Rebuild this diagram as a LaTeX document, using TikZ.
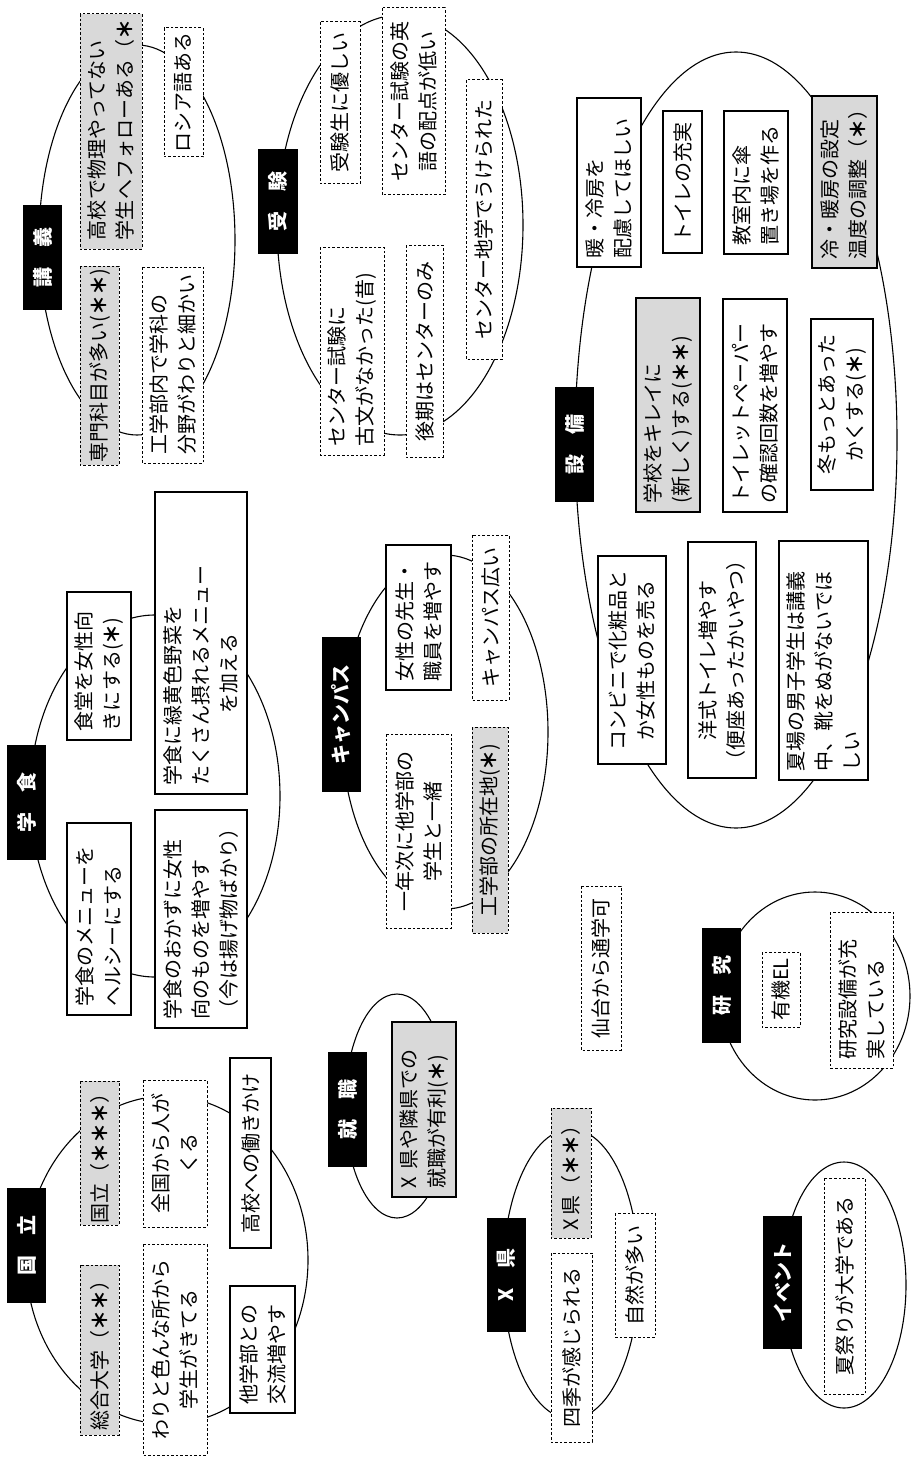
\documentclass[tikz,border=0pt]{standalone}
\usepackage{fontspec}
\setmainfont{Noto Sans CJK JP}
\definecolor{boxgray}{HTML}{D9D9D9}
\newcommand\hs{{\bfseries ＊}}
\tikzset{
  ell/.style={draw, line width=1.1pt},
  bxs/.style={draw, line width=1.1pt, fill=white, rotate=90, inner sep=0pt, align=center,
    font=\fontsize{20}{28}\selectfont},
  bxd/.style={bxs, line width=1pt, dash pattern=on 2.6pt off 2pt},
  gry/.style={fill=boxgray},
  lft/.style={align=left, text width=\bxt pt},
  lbl/.style={fill=black, text=white, rotate=90, inner sep=0pt,
    font=\fontsize{20}{24}\selectfont\bfseries},
}
\newcommand\bx[7]{%
  \pgfmathsetmacro\bxw{#5-#3}%
  \pgfmathsetmacro\bxh{#4-#2}%
  \pgfmathsetmacro\bxt{#5-#3-18}%
  \node[#6, minimum width=\bxw pt, minimum height=\bxh pt] (#1) at ({(#2+#4)/2},{(#3+#5)/2}) {#7};}
\newcommand\lb[6]{%
  \pgfmathsetmacro\bxw{#5-#3}%
  \pgfmathsetmacro\bxh{#4-#2}%
  \node[lbl, minimum width=\bxw pt, minimum height=\bxh pt] (#1) at ({(#2+#4)/2},{(#3+#5)/2}) {#6};}
\begin{document}
\begin{tikzpicture}[x=1pt,y=-1pt]
\fill[white] (0,0) rectangle (917,1458);
\useasboundingbox (0,0) rectangle (917,1458);

% ---------- ellipses ----------
\draw[ell] (167,1260) ellipse [x radius=141pt, y radius=164pt];
\draw[ell] (155,796) ellipse [x radius=125pt, y radius=181pt];
\draw[ell] (137,240) ellipse [x radius=98pt, y radius=195pt];
\draw[ell] (400,225) ellipse [x radius=123pt, y radius=210pt];
\draw[ell] (397,1106) ellipse [x radius=52pt, y radius=112pt];
\draw[ell] (445,732) ellipse [x radius=103pt, y radius=177pt];
\draw[ell] (571,1274) ellipse [x radius=68pt, y radius=145pt];
\draw[ell] (736,440) ellipse [x radius=161pt, y radius=388pt];
\draw[ell] (815,996) ellipse [x radius=95pt, y radius=104pt];
\draw[ell] (844,1285) ellipse [x radius=62pt, y radius=123pt];

% ---------- 国立 ----------
\lb{lkoku}{7}{1188}{46}{1303}{国　立}
\bx{a1}{80}{1265}{119}{1435}{bxd,gry}{総合大学（\hs\hs）}
\bx{a2}{80}{1081}{119}{1225}{bxd,gry}{国立（\hs\hs\hs）}
\bx{a3}{143}{1244}{207}{1455}{bxd}{わりと色んな所から\\学生がきてる}
\bx{a4}{143}{1080}{207}{1227}{bxd}{全国から人が\\くる}
\bx{a5}{230}{1058}{271}{1248}{bxs}{高校への働きかけ}
\bx{a6}{230}{1286}{295}{1413}{bxs,lft}{他学部との\\交流増やす}

% ---------- 学食 ----------
\lb{lgaku}{7}{745}{46}{860}{学　食}
\bx{b1}{67}{592}{131}{740}{bxs,lft}{食堂を女性向\\きにする(\hs)}
\bx{b2}{155}{492}{247}{794}{bxs,lft}{学食に緑黄色野菜を\\たくさん摂れるメニュー\\\hspace*{3.6em}を加える}
\bx{b3}{67}{823}{131}{1015}{bxs,lft}{学食のメニューを\\ヘルシーにする}
\bx{b4}{155}{810}{247}{1028}{bxs,lft}{学食のおかずに女性\\向のものを増やす\\（今は揚げ物ばかり）}

% ---------- 講義 ----------
\lb{lkogi}{23}{205}{62}{310}{講　義}
\bx{c1}{80}{14}{142}{249}{bxd,gry,lft}{高校で物理やってない\\学生へフォローある（\hs}
\bx{c2}{80}{266}{119}{465}{bxd,gry}{専門科目が多い(\hs\hs)}
\bx{c3}{164}{28}{203}{157}{bxd}{ロシア語ある}
\bx{c4}{142}{267}{203}{463}{bxd,lft}{工学部内で学科の\\分野がわりと細かい}

% ---------- 受験 ----------
\lb{ljuken}{258}{149}{298}{254}{受　験}
\bx{d1}{320}{22}{360}{184}{bxd}{受験生に優しい}
\bx{d2}{382}{8}{445}{195}{bxd}{センター試験の英\\語の配点が低い}
\bx{d3}{466}{80}{502}{359}{bxd}{センター地学でうけられた}
\bx{d4}{320}{247}{384}{455}{bxd,lft}{センター試験に\\古文がなかった(昔)}
\bx{d5}{406}{245}{443}{457}{bxd}{後期はセンターのみ}

% ---------- 就職 ----------
\lb{lshu}{328}{1052}{367}{1167}{就　職}
\bx{e1}{392}{1022}{456}{1197}{bxs,gry,lft}{X 県や隣県での\\就職が有利(\hs)}

% ---------- キャンパス ----------
\lb{lcamp}{322}{637}{361}{792}{キャンパス}
\bx{f1}{386}{545}{451}{690}{bxs,lft}{女性の先生・\\職員を増やす}
\bx{f2}{472}{535}{509}{700}{bxd}{キャンパス広い}
\bx{f3}{386}{734}{451}{928}{bxd}{一年次に他学部の\\学生と一緒}
\bx{f4}{472}{727}{508}{933}{bxd,gry}{工学部の所在地(\hs)}

% ---------- X県 ----------
\lb{lken}{487}{1218}{526}{1332}{X　県}
\bx{g1}{551}{1108}{591}{1238}{bxd,gry}{X 県（\hs\hs）}
\bx{g2}{551}{1253}{592}{1442}{bxd}{四季が感じられる}
\bx{g3}{615}{1213}{655}{1337}{bxd}{自然が多い}

% ---------- 設備 ----------
\lb{lsetsu}{555}{387}{594}{502}{設　備}
\bx{h1}{577}{98}{641}{267}{bxs,lft}{暖・冷房を\\配慮してほしい}
\bx{h2}{663}{111}{702}{253}{bxs}{トイレの充実}
\bx{h3}{724}{111}{788}{254}{bxs,lft}{教室内に傘\\置き場を作る}
\bx{h4}{812}{96}{877}{268}{bxs,gry,lft}{冷・暖房の設定\\温度の調整（\hs）}
\bx{h5}{636}{298}{700}{512}{bxs,gry,lft}{学校をキレイに\\(新しく)する(\hs\hs)}
\bx{h6}{723}{299}{787}{512}{bxs,lft}{トイレットペーパー\\の確認回数を増やす}
\bx{h7}{811}{319}{873}{490}{bxs}{冬もっとあった\\かくする(\hs)}
\bx{h8}{598}{556}{666}{764}{bxs}{コンビニで化粧品と\\か女性ものを売る}
\bx{h9}{688}{542}{756}{778}{bxs}{洋式トイレ増やす\\（便座あったかいやつ）}
\bx{h10}{779}{541}{868}{780}{bxs,lft}{夏場の男子学生は講義\\中、靴をぬがないでほ\\しい}

% ---------- 研究 ----------
\lb{lken2}{702}{928}{741}{1043}{研　究}
\bx{i1}{762}{952}{800}{1027}{bxd}{有機EL}
\bx{i2}{830}{912}{893}{1068}{bxd,lft}{研究設備が充\\実している}

% ---------- 仙台 ----------
\bx{k1}{581}{886}{621}{1050}{bxd}{仙台から通学可}

% ---------- イベント ----------
\lb{levent}{763}{1216}{802}{1349}{イベント}
\bx{j1}{824}{1178}{865}{1394}{bxd}{夏祭りが大学である}
\end{tikzpicture}
\end{document}
